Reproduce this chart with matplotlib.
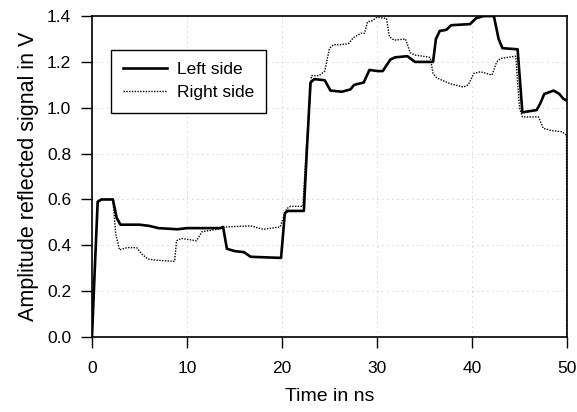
import numpy as np
import matplotlib
matplotlib.use("Agg")
import matplotlib.pyplot as plt

plt.rcParams['font.family'] = ['Liberation Sans', 'DejaVu Sans']

# Reflected signal amplitude (V) against time (ns) for both sides
t_left = [0, 0.3, 0.6, 1, 2.2, 2.6, 3, 5, 6, 7, 9, 10, 13.5, 13.8, 14.2, 15, 16, 16.7,
          19.9, 20.3, 20.6, 22.3, 22.6, 23, 23.4, 24.5, 25.1, 26.3, 27.2, 27.6, 28.6,
          29.2, 30.1, 30.6, 31.4, 31.9, 33.2, 34, 35.9, 36.2, 36.6, 37.3, 37.8, 39.8,
          40.4, 41.2, 42.3, 42.8, 43.2, 44.8, 45.3, 46.8, 47.2, 47.6, 48.6, 49.2, 49.6, 50]
v_left = [0, 0.3, 0.59, 0.6, 0.6, 0.52, 0.49, 0.49, 0.485, 0.475, 0.47, 0.475, 0.475, 0.48,
          0.385, 0.375, 0.37, 0.35, 0.345, 0.54, 0.55, 0.55, 0.8, 1.11, 1.125, 1.12, 1.075,
          1.07, 1.08, 1.10, 1.11, 1.165, 1.16, 1.16, 1.21, 1.22, 1.225, 1.2, 1.2, 1.3,
          1.335, 1.34, 1.36, 1.365, 1.39, 1.4, 1.4, 1.3, 1.26, 1.255, 0.98, 0.99, 1.02,
          1.06, 1.075, 1.06, 1.04, 1.03]

t_right = [0, 0.3, 0.6, 1, 2.2, 2.5, 2.9, 3.7, 4.7, 5.3, 5.9, 6.8, 8.7, 8.9, 9.4, 11,
           11.6, 12.5, 13.2, 14, 16.7, 18, 19.8, 20.5, 20.9, 22.2, 22.6, 23.1, 23.9, 24.5,
           25, 25.4, 26.1, 27.0, 27.5, 28.3, 28.7, 29.0, 29.5, 30.0, 31.0, 31.3, 31.8, 33,
           33.5, 34, 35.6, 35.9, 36.3, 37.7, 39.1, 39.6, 40.2, 40.9, 42.1, 42.6, 43, 44.6,
           45, 45.3, 47, 47.5, 48.5, 49.5, 49.95, 50]
v_right = [0, 0.3, 0.59, 0.6, 0.6, 0.45, 0.38, 0.39, 0.39, 0.36, 0.34, 0.335, 0.33, 0.42,
           0.43, 0.42, 0.46, 0.465, 0.47, 0.48, 0.485, 0.47, 0.48, 0.56, 0.57, 0.57, 0.85,
           1.14, 1.14, 1.16, 1.26, 1.275, 1.275, 1.28, 1.305, 1.325, 1.325, 1.375, 1.38,
           1.395, 1.39, 1.31, 1.295, 1.3, 1.24, 1.23, 1.22, 1.15, 1.13, 1.105, 1.09, 1.1,
           1.15, 1.157, 1.143, 1.2, 1.215, 1.225, 1.0, 0.96, 0.96, 0.91, 0.9, 0.895, 0.88, 0.0]

x_ticks = [0, 10, 20, 30, 40, 50]
y_ticks = [0.0, 0.2, 0.4, 0.6, 0.8, 1.0, 1.2, 1.4]

fig = plt.figure(figsize=(5.77, 4.12), dpi=100)
ax = fig.add_axes([0.1594, 0.182, 0.8233, 0.779])

ax.plot(t_left, v_left, color="black", lw=1.9, label="Left side")
ax.plot(t_right, v_right, color="black", lw=1.0, linestyle=(0, (1, 1)), label="Right side")

ax.set_xlim(0, 50)
ax.set_ylim(0, 1.4)
ax.set_xticks(x_ticks)
ax.set_yticks(y_ticks)
ax.set_yticklabels([f"{v:.1f}" for v in y_ticks])
ax.tick_params(direction="out", length=8, width=1, labelsize=12.5)
ax.tick_params(axis="x", pad=9)
ax.tick_params(axis="y", pad=7)
ax.grid(True, color="0.65", linestyle=(0, (1, 5)), lw=0.6)

for s in ax.spines.values():
    s.set_linewidth(1.2)

ax.set_xlabel("Time in ns", fontsize=14, labelpad=9)
ax.set_ylabel("Amplitude reflected signal in V", fontsize=15.5, labelpad=6)

leg = ax.legend(loc="upper left", bbox_to_anchor=(0.04, 0.894), borderaxespad=0,
                fontsize=12.5, frameon=True, fancybox=False, handlelength=2.5,
                handletextpad=0.6, borderpad=0.7, labelspacing=0.45)
leg.get_frame().set_edgecolor("black")
leg.get_frame().set_linewidth(1.0)
leg.get_frame().set_alpha(1)

fig.savefig("out.png", dpi=100)
plt.close(fig)
